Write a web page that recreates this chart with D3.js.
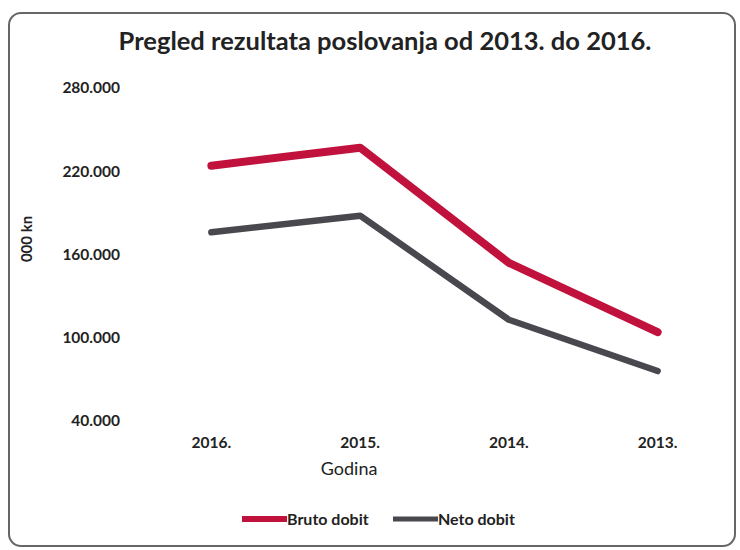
<!DOCTYPE html>
<html>
<head>
<meta charset="utf-8">
<script src="https://cdn.jsdelivr.net/npm/d3@7"></script>
<style>
  body { margin: 0; background: #fff; }
  svg { font-family: Lato, "Open Sans", sans-serif; }
</style>
</head>
<body>
<div id="chart"></div>
<script>
// godine (redoslijed kao na grafu) i vrijednosti u 000 kn
var years = ["2016.", "2015.", "2014.", "2013."];
var bruto = [224000, 237000, 154000, 104000];
var neto = [176000, 188000, 113000, 76000];
var yTicks = [40000, 100000, 160000, 220000, 280000];
var seriesNames = ["Bruto dobit", "Neto dobit"];
var colors = ["#c0123c", "#48484e"];

(function() {
  var W = 740, H = 550;
  var margin = {top: 88, right: 8, bottom: 129, left: 137},
      width = W - margin.left - margin.right,
      height = H - margin.top - margin.bottom;

  var svg = d3.select("#chart").append("svg")
    .attr("width", W)
    .attr("height", H);

  // okvir
  svg.append("rect")
    .attr("x", 9).attr("y", 13)
    .attr("width", 726).attr("height", 533)
    .attr("rx", 12)
    .attr("fill", "none")
    .attr("stroke", "#666")
    .attr("stroke-width", 2);

  svg.append("text")
    .attr("x", 385).attr("y", 50)
    .attr("text-anchor", "middle")
    .attr("font-size", 25.5)
    .attr("font-weight", "bold")
    .attr("fill", "#222")
    .text("Pregled rezultata poslovanja od 2013. do 2016.");

  var g = svg.append("g")
    .attr("transform", "translate(" + margin.left + "," + margin.top + ")");

  var x = d3.scaleBand()
    .domain(years)
    .range([0, width]);

  var y = d3.scaleLinear()
    .domain([40000, 280000])
    .range([height, 0]);

  var yAxis = g.append("g")
    .call(d3.axisLeft(y).tickValues(yTicks).tickSize(0).tickPadding(17)
      .tickFormat(function(d) { return (d / 1000) + ".000"; }));
  yAxis.select(".domain").remove();
  yAxis.selectAll("text")
    .attr("font-size", 15.5)
    .attr("font-weight", "bold")
    .attr("fill", "#222")
    .attr("font-family", "Lato, sans-serif");

  var xAxis = g.append("g")
    .attr("transform", "translate(0," + height + ")")
    .call(d3.axisBottom(x).tickSize(0).tickPadding(16));
  xAxis.select(".domain").remove();
  xAxis.selectAll("text")
    .attr("font-size", 15.5)
    .attr("font-weight", "bold")
    .attr("fill", "#222")
    .attr("font-family", "Lato, sans-serif");

  g.append("text")
    .attr("x", x("2015.") + x.bandwidth() / 2 - 11)
    .attr("y", height + 54)
    .attr("text-anchor", "middle")
    .attr("font-size", 18)
    .attr("fill", "#222")
    .text("Godina");

  svg.append("text")
    .attr("transform", "translate(32,239) rotate(-90)")
    .attr("text-anchor", "middle")
    .attr("font-size", 15)
    .attr("font-weight", "bold")
    .attr("fill", "#222")
    .text("000 kn");

  var line = d3.line()
    .x(function(d, i) { return x(years[i]) + x.bandwidth() / 2; })
    .y(function(d) { return y(d); });

  [bruto, neto].forEach(function(s, i) {
    g.append("path")
      .datum(s)
      .attr("fill", "none")
      .attr("stroke", colors[i])
      .attr("stroke-width", i === 0 ? 8 : 6.5)
      .attr("stroke-linecap", "round")
      .attr("stroke-linejoin", "round")
      .attr("d", line);
  });

  // legenda
  var legX = [242, 393];
  seriesNames.forEach(function(n, i) {
    var lg = svg.append("g").attr("transform", "translate(" + legX[i] + ",519)");
    lg.append("line")
      .attr("x1", 0).attr("x2", 45)
      .attr("stroke", colors[i])
      .attr("stroke-width", i === 0 ? 6 : 5);
    lg.append("text")
      .attr("x", 45).attr("y", 6)
      .attr("font-size", 16)
      .attr("font-weight", "bold")
      .attr("fill", "#222")
      .text(n);
  });
})();
</script>
</body>
</html>
